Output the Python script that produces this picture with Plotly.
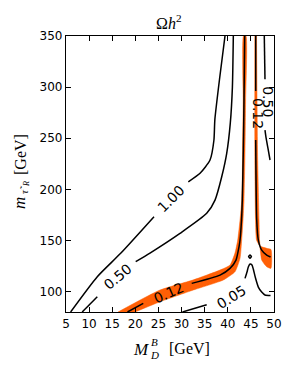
import plotly.graph_objects as go

# ---- contour lines (x = M_D^B [GeV], y = m_stau [GeV]) ----
c100_a_x = [6.0, 11.77, 16.83, 24.04]
c100_a_y = [80, 114.5, 137.4, 173.2]
c100_b_x = [31.46, 34.0, 36.16, 37.0, 37.2, 38.3, 39.4]
c100_b_y = [207.4, 215.7, 228.7, 248, 268, 310.9, 350]

c050_a_x = [8.5, 11.77]
c050_a_y = [80, 95]
c050_b_x = [20.08, 23.17, 29.66, 35.44, 37.24, 38.69, 39.77, 40.55, 41.0, 41.2]
c050_b_y = [129.2, 137.6, 156.9, 176.5, 189.5, 212.3, 235.2, 265, 300, 350]
c050_r1_x = [47.9, 48.05]
c050_r1_y = [350, 307.6]
c050_r2_x = [48.05, 48.3, 48.7, 49.14]
c050_r2_y = [258, 250, 240, 228.7]

c012_a_x = [18.3, 21.72]
c012_a_y = [80, 88.5]
c012_b_x = [32.2, 38.32, 40.48, 41.78, 42.43, 42.65, 42.97, 43.14, 43.36, 43.51, 43.66]
c012_b_y = [108.0, 116.1, 122.7, 130.8, 143.8, 150.4, 170, 189.5, 238.5, 287.4, 350]
c012_r1_x = [46.04, 46.04]
c012_r1_y = [350, 296.2]
c012_r2_x = [46.04, 46.26, 46.61, 47.34, 48.42, 49.25]
c012_r2_y = [248.2, 170, 150.4, 140.6, 135.7, 133.8]

c005_a_x = [30.2, 35.44]
c005_a_y = [80, 87]
c005_b_x = [43.73, 44.16, 44.44, 44.81, 45.24, 45.52, 46.0, 46.61, 47.34, 48.05, 49.25]
c005_b_y = [112.9, 119.1, 124, 126.9, 125.9, 122.0, 113.2, 104.4, 99.5, 96.6, 96.1]
c005_loop_x = [44.5, 44.81, 45.12, 44.81, 44.5]
c005_loop_y = [134.2, 135.8, 134.2, 132.6, 134.2]

# ---- orange band around 0.12 ----
bandL_up_x = [16.25, 25.34, 32.48, 38.32, 40.48, 41.56, 42.15, 42.65, 43.03, 43.22, 43.33, 43.40]
bandL_up_y = [80, 101.5, 111.3, 121.0, 125.9, 137.7, 150.4, 170, 189.5, 238.5, 287.4, 350]
bandL_lo_x = [19.93, 25.34, 32.54, 39.03, 41.56, 42.65, 43.01, 43.30, 43.51, 43.73, 43.86, 43.94]
bandL_lo_y = [80, 90.0, 101.5, 111.3, 119.4, 132.5, 150.4, 170, 189.5, 238.5, 287.4, 350]
bandR_in_x = [45.85, 45.85, 46.0, 46.22, 46.98, 48.42, 49.35]
bandR_in_y = [350, 238.5, 170, 150.4, 144.5, 142.3, 141.1]
bandR_out_x = [46.22, 46.43, 46.76, 46.87, 47.34, 48.42, 49.35]
bandR_out_y = [350, 238.5, 170, 150.4, 130.8, 124.3, 122.7]

# ---- contour labels ----
lab_text = ["1.00", "0.50", "0.12", "0.05", "0.50", "0.12"]
lab_x = [27.6, 16.1, 27.13, 40.85, 48.7, 46.39]
lab_y = [191, 114.5, 98.8, 94.3, 285.3, 274.4]
lab_ang = [-45, -40, -24, -32, 90, 90]

x_ticks = [5, 10, 15, 20, 25, 30, 35, 40, 45, 50]
y_ticks = [100, 150, 200, 250, 300, 350]

ORANGE = "#ff5f05"
fig = go.Figure()

fig.add_trace(go.Scatter(x=bandL_up_x + bandL_lo_x[::-1], y=bandL_up_y + bandL_lo_y[::-1],
                         fill="toself", fillcolor=ORANGE, mode="lines",
                         line=dict(width=0.5, color=ORANGE, shape="spline", smoothing=0.5),
                         hoverinfo="skip"))
fig.add_trace(go.Scatter(x=bandR_in_x + bandR_out_x[::-1], y=bandR_in_y + bandR_out_y[::-1],
                         fill="toself", fillcolor=ORANGE, mode="lines",
                         line=dict(width=0.5, color=ORANGE, shape="spline", smoothing=0.5),
                         hoverinfo="skip"))

segs = [(c100_a_x, c100_a_y), (c100_b_x, c100_b_y),
        (c050_a_x, c050_a_y), (c050_b_x, c050_b_y), (c050_r1_x, c050_r1_y), (c050_r2_x, c050_r2_y),
        (c012_a_x, c012_a_y), (c012_b_x, c012_b_y), (c012_r1_x, c012_r1_y), (c012_r2_x, c012_r2_y),
        (c005_a_x, c005_a_y), (c005_b_x, c005_b_y), (c005_loop_x, c005_loop_y)]
for sx, sy in segs:
    fig.add_trace(go.Scatter(x=sx, y=sy, mode="lines",
                             line=dict(color="black", width=1.5, shape="spline", smoothing=0.6),
                             hoverinfo="skip"))

annots = []
for t, ax, ay, ang in zip(lab_text, lab_x, lab_y, lab_ang):
    annots.append(dict(x=ax, y=ay, xref="x", yref="y", text=t, showarrow=False,
                       xanchor="center", yanchor="middle",
                       textangle=ang, font=dict(family="DejaVu Sans", size=14, color="black")))

# page has an 8px body margin; the figure is sized so the plot lands where the reference has it
OFF = 8
FW, FH = 298 - OFF, 368 - OFF
L, T, W, H = 66, 36, 208, 276   # target pixel box in the window


def px(p):
    return (p - L) / W


def py(p):
    return (T + H - p) / H


serif = "Liberation Serif"


def txt(x, y, s, size, ang=0):
    return dict(x=px(x), y=py(y), xref="paper", yref="paper", text=s, showarrow=False,
                xanchor="center", yanchor="middle", textangle=ang,
                font=dict(family=serif, size=size, color="black"))


annots += [
    txt(168, 22, "Ω<i>h</i><sup>2</sup>", 16),
    txt(141, 349, "<i>M</i>", 17),
    txt(154, 342, "<i>B</i>", 11),
    txt(154, 355, "<i>D</i>", 11),
    txt(189, 348, "[GeV]", 16),
    txt(19, 203, "<i>m</i>", 17, -90),
    txt(24, 190, "<i>τ̃</i>", 11, -90),
    txt(27, 184, "<i>R</i>", 8, -90),
    txt(20, 155, "[GeV]", 16, -90),
]

axis_common = dict(showline=True, linecolor="black", linewidth=1.3, mirror="ticks",
                   ticks="inside", ticklen=5, tickwidth=1, tickcolor="black",
                   showgrid=False, zeroline=False,
                   tickfont=dict(family="DejaVu Sans", size=12, color="black"))

fig.update_layout(
    width=FW, height=FH,
    margin=dict(l=L - OFF, r=FW - (L - OFF) - W, t=T - OFF, b=FH - (T - OFF) - H),
    paper_bgcolor="white", plot_bgcolor="white",
    showlegend=False,
    xaxis=dict(range=[5, 50], tickvals=x_ticks, **axis_common),
    yaxis=dict(range=[80, 350], tickvals=y_ticks, **axis_common),
    annotations=annots,
)

fig.write_html("out.html")
